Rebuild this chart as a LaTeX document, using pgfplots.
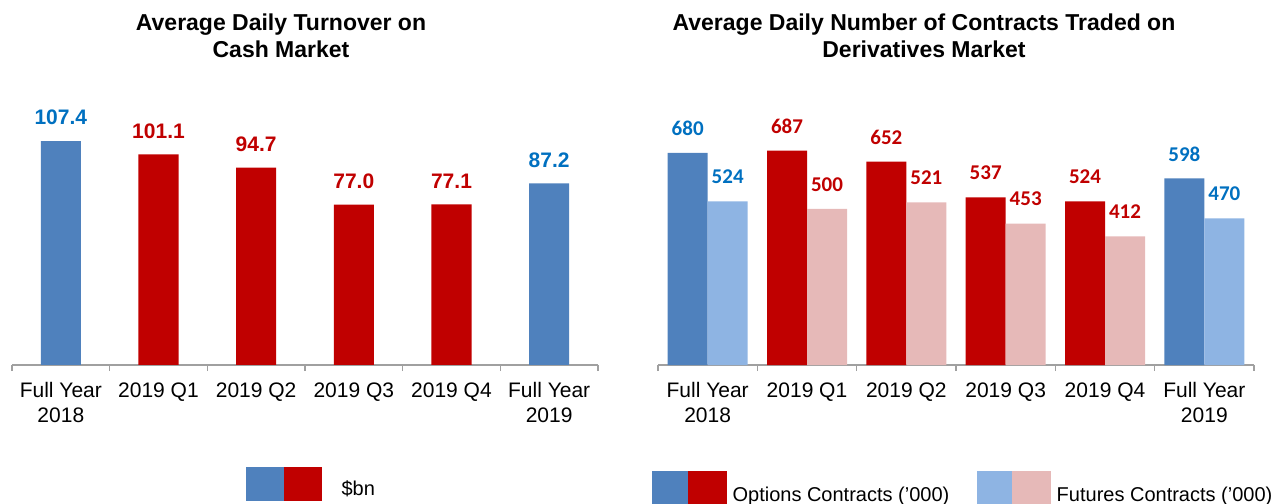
\documentclass[border=0pt]{standalone}
\usepackage{fontspec}
\setmainfont{Liberation Sans}
\newfontfamily\carlito{Carlito}
\usepackage{pgfplots}
\pgfplotsset{compat=1.18}
\definecolor{cblue}{HTML}{4F81BD}
\definecolor{cred}{HTML}{C00000}
\definecolor{clight}{HTML}{8EB4E3}
\definecolor{cpink}{HTML}{E6B9B8}
\definecolor{lblue}{HTML}{0070C0}
\definecolor{lred}{HTML}{C00000}
\definecolor{axgray}{HTML}{A0A0A0}
\pgfplotsset{
  mybase/.style={
    scale only axis, height=250bp, ymin=0,
    xmin=-0.5, xmax=5.5,
    hide y axis, axis x line*=bottom,
    axis line style={draw=axgray, line width=1.5bp},
    xtick={0,1,2,3,4,5},
    major tick length=0pt,
    minor xtick={-0.5,0.5,1.5,2.5,3.5,4.5,5.5},
    minor tick length=6bp,
    tick align=outside,
    tick style={draw=axgray, line width=1.5bp},
    xticklabels={{Full Year\\2018},{2019 Q1},{2019 Q2},{2019 Q3},{2019 Q4},{Full Year\\2019}},
    xticklabel style={font=\fontsize{21bp}{25bp}\selectfont, align=center, anchor=north, inner sep=0pt, yshift=-17.4bp, text=black},
    clip=false,
    point meta=explicit symbolic,
    nodes near coords,
    legend style={draw=none, fill=none, inner sep=0pt, cells={anchor=base west}, font=\fontsize{20bp}{24bp}\selectfont},
  }
}
\begin{document}
\begin{tikzpicture}
\useasboundingbox (0,0) rectangle (1273bp,504bp);
% titles
\node[anchor=base, font=\bfseries\fontsize{23bp}{27bp}\selectfont] at (281bp,473.8bp) {Average Daily Turnover on};
\node[anchor=base, font=\bfseries\fontsize{23bp}{27bp}\selectfont] at (281bp,446.5bp) {Cash Market};
\node[anchor=base, font=\bfseries\fontsize{23bp}{27bp}\selectfont] at (924bp,473.8bp) {Average Daily Number of Contracts Traded on};
\node[anchor=base, font=\bfseries\fontsize{23bp}{27bp}\selectfont] at (924bp,446.5bp) {Derivatives Market};

\begin{axis}[mybase, at={(12bp,139bp)}, anchor=south west, width=586bp, ymax=120,
  every node near coord/.append style={anchor=center, yshift=23.5bp, font=\bfseries\fontsize{21bp}{25bp}\selectfont},
  legend style={at={(axis description cs:0.3993,-0.4068)}, anchor=north west,
    /tikz/every odd column/.append style={column sep=18bp}},
]
\addplot[ybar, bar width=40bp, bar shift=0pt, fill=cblue, draw=none, forget plot,
  every node near coord/.append style={text=lblue}]
  coordinates {(0,107.4) [107.4] (5,87.2) [87.2]};
\addplot[ybar, bar width=40bp, bar shift=0pt, fill=cred, draw=none, forget plot,
  every node near coord/.append style={text=lred}]
  coordinates {(1,101.1) [101.1] (2,94.7) [94.7] (3,77.0) [77.0] (4,77.1) [77.1]};
\addlegendimage{legend image code/.code={
  \fill[cblue] (0bp,-5bp) rectangle (37.5bp,28.3bp);
  \fill[cred] (37.5bp,-5bp) rectangle (75bp,28.3bp);}}
\addlegendentry{\$bn}
\end{axis}

\begin{axis}[mybase, at={(658bp,139bp)}, anchor=south west, width=596bp, ymax=801,
  every node near coord/.append style={anchor=center, yshift=24.5bp, font=\carlito\bfseries\fontsize{21bp}{25bp}\selectfont},
  legend columns=2,
  legend style={at={(axis description cs:-0.01007,-0.424)}, anchor=north west,
    /tikz/every odd column/.append style={column sep=4bp},
    /tikz/every even column/.append style={column sep=26bp}},
]
\addplot[ybar, bar width=40bp, bar shift=-20bp, fill=cblue, draw=none, forget plot,
  every node near coord/.append style={text=lblue, xshift=-20bp}]
  coordinates {(0,680) [680] (5,598) [598]};
\addplot[ybar, bar width=40bp, bar shift=-20bp, fill=cred, draw=none, forget plot,
  every node near coord/.append style={text=lred, xshift=-20bp}]
  coordinates {(1,687) [687] (2,652) [652] (3,537) [537] (4,524) [524]};
\addplot[ybar, bar width=40bp, bar shift=20bp, fill=clight, draw=none, forget plot,
  every node near coord/.append style={text=lblue, xshift=20bp}]
  coordinates {(0,524) [524] (5,470) [470]};
\addplot[ybar, bar width=40bp, bar shift=20bp, fill=cpink, draw=none, forget plot,
  every node near coord/.append style={text=lred, xshift=20bp}]
  coordinates {(1,500) [500] (2,521) [521] (3,453) [453] (4,412) [412]};
\addlegendimage{legend image code/.code={
  \fill[cblue] (0bp,-10bp) rectangle (36bp,30bp);
  \fill[cred] (36bp,-10bp) rectangle (74bp,30bp);}}
\addlegendentry{Options Contracts (’000)}
\addlegendimage{legend image code/.code={
  \fill[clight] (0bp,-10bp) rectangle (35bp,30bp);
  \fill[cpink] (35bp,-10bp) rectangle (73bp,30bp);}}
\addlegendentry{Futures Contracts (’000)}
\end{axis}
\end{tikzpicture}
\end{document}
